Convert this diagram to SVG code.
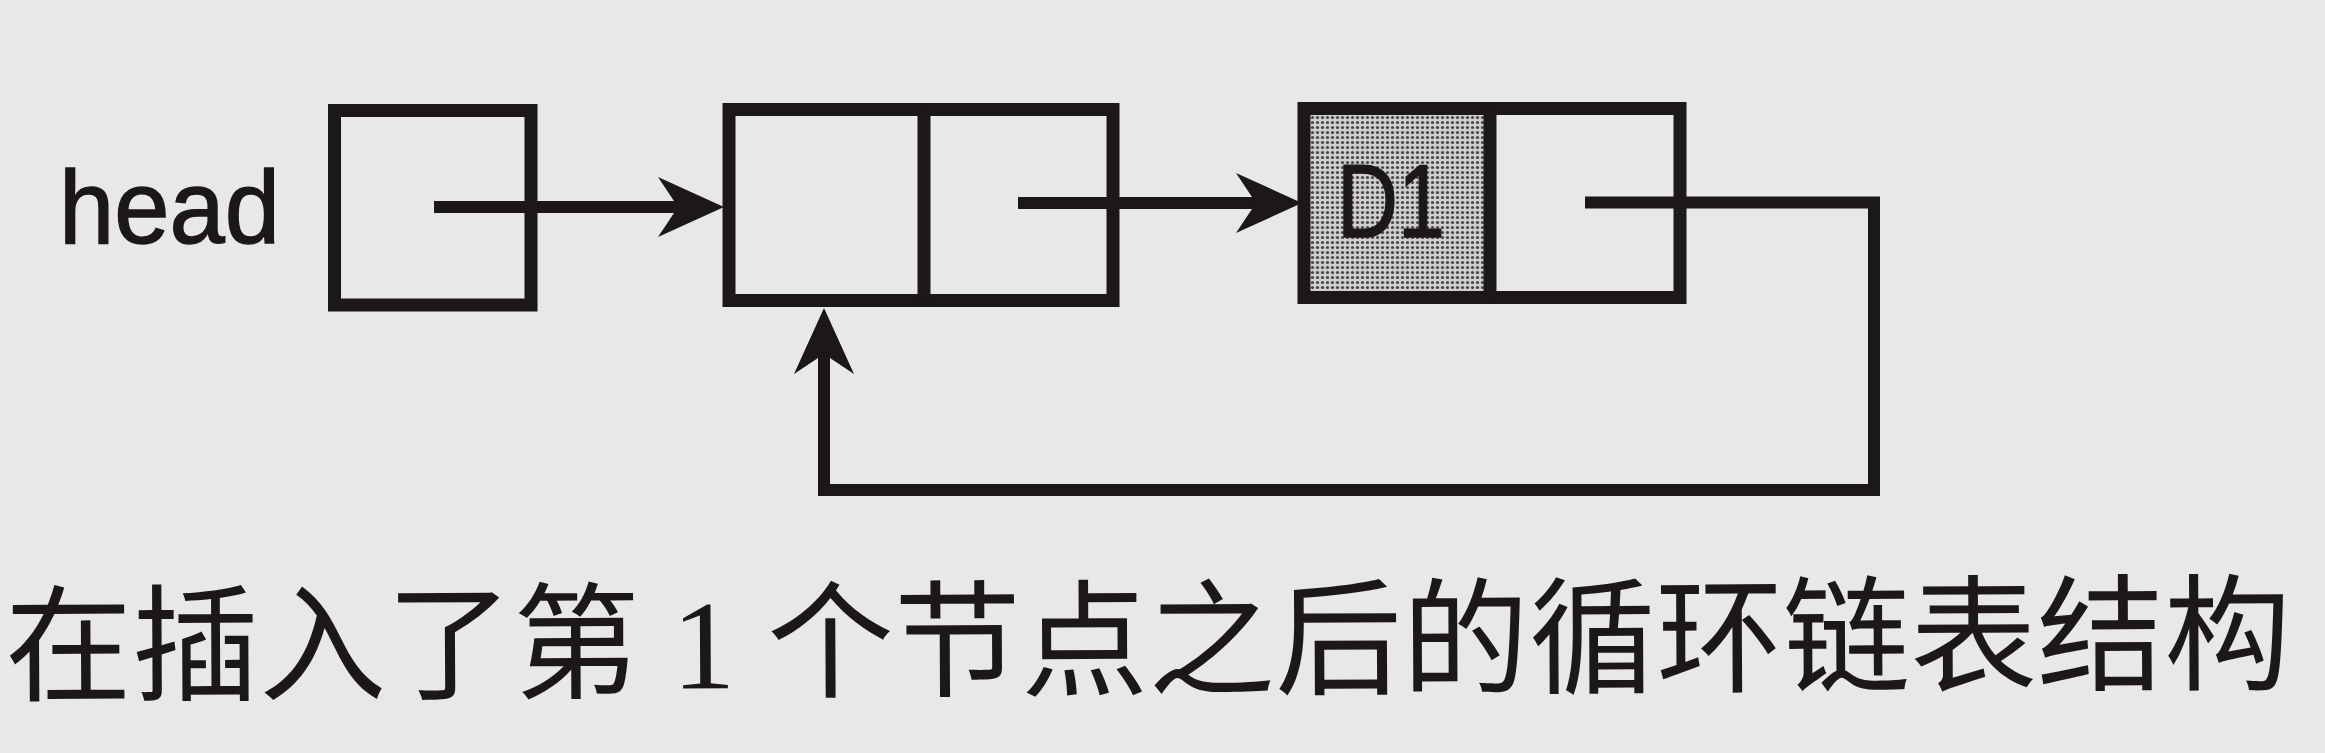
<svg xmlns="http://www.w3.org/2000/svg" width="2325" height="753" viewBox="0 0 2325 753">
  <defs>
    <style>
      .box { fill: none; stroke: #1b1817; stroke-width: 13; }
      .wire { fill: none; stroke: #1b1817; stroke-width: 12; stroke-linejoin: miter; }
      .lbl { font-family: "Liberation Sans", Arial, sans-serif; fill: #1b1817; stroke: #1b1817; stroke-width: 1.5; }
      .cap { font-family: "Liberation Serif", "Noto Sans CJK SC", serif; fill: #1b1817; }
    </style>
    <marker id="arr" viewBox="0 0 66 60" refX="20" refY="30" markerWidth="66" markerHeight="60" markerUnits="userSpaceOnUse" orient="auto">
      <path d="M0,0 L66,30 L0,60 L20,30 Z" fill="#1b1817"/>
    </marker>
    <pattern id="dots" width="5" height="5" patternUnits="userSpaceOnUse">
      <rect width="5" height="5" fill="#cfcfcd"/>
      <circle cx="2.5" cy="2.5" r="1.6" fill="#4a4846"/>
    </pattern>
  </defs>
  <rect width="2325" height="753" fill="#e8e8e6"/>

  <g id="head">
    <text class="lbl" x="59" y="243" font-size="104" textLength="221" lengthAdjust="spacingAndGlyphs">head</text>
    <rect class="box" x="334.5" y="110.5" width="196.5" height="194.5"/>
  </g>

  <g id="node1">
    <rect class="box" x="729" y="109.5" width="384" height="191"/>
    <line class="box" x1="924" y1="109.5" x2="924" y2="300.5"/>
  </g>

  <g id="node2">
    <rect x="1304" y="108.5" width="186" height="189" fill="url(#dots)"/>
    <rect class="box" x="1304" y="108.5" width="376" height="189"/>
    <line class="box" x1="1490" y1="108.5" x2="1490" y2="297.5"/>
    <text class="lbl" x="1337" y="237" font-size="103" textLength="108" lengthAdjust="spacingAndGlyphs">D1</text>
  </g>

  <g id="connectors">
    <line class="wire" x1="434" y1="207" x2="678" y2="207" marker-end="url(#arr)"/>
    <line class="wire" x1="1018" y1="203" x2="1256" y2="203" marker-end="url(#arr)"/>
    <polyline class="wire" points="1585,202.5 1874,202.5 1874,490 824,490 824,354" marker-end="url(#arr)"/>
  </g>

  <g id="caption">
    <text class="cap" x="5" y="686" font-size="127" textLength="2286" lengthAdjust="spacing" transform="rotate(-0.3 1150 630)">在插入了第 1 个节点之后的循环链表结构</text>
  </g>
</svg>
